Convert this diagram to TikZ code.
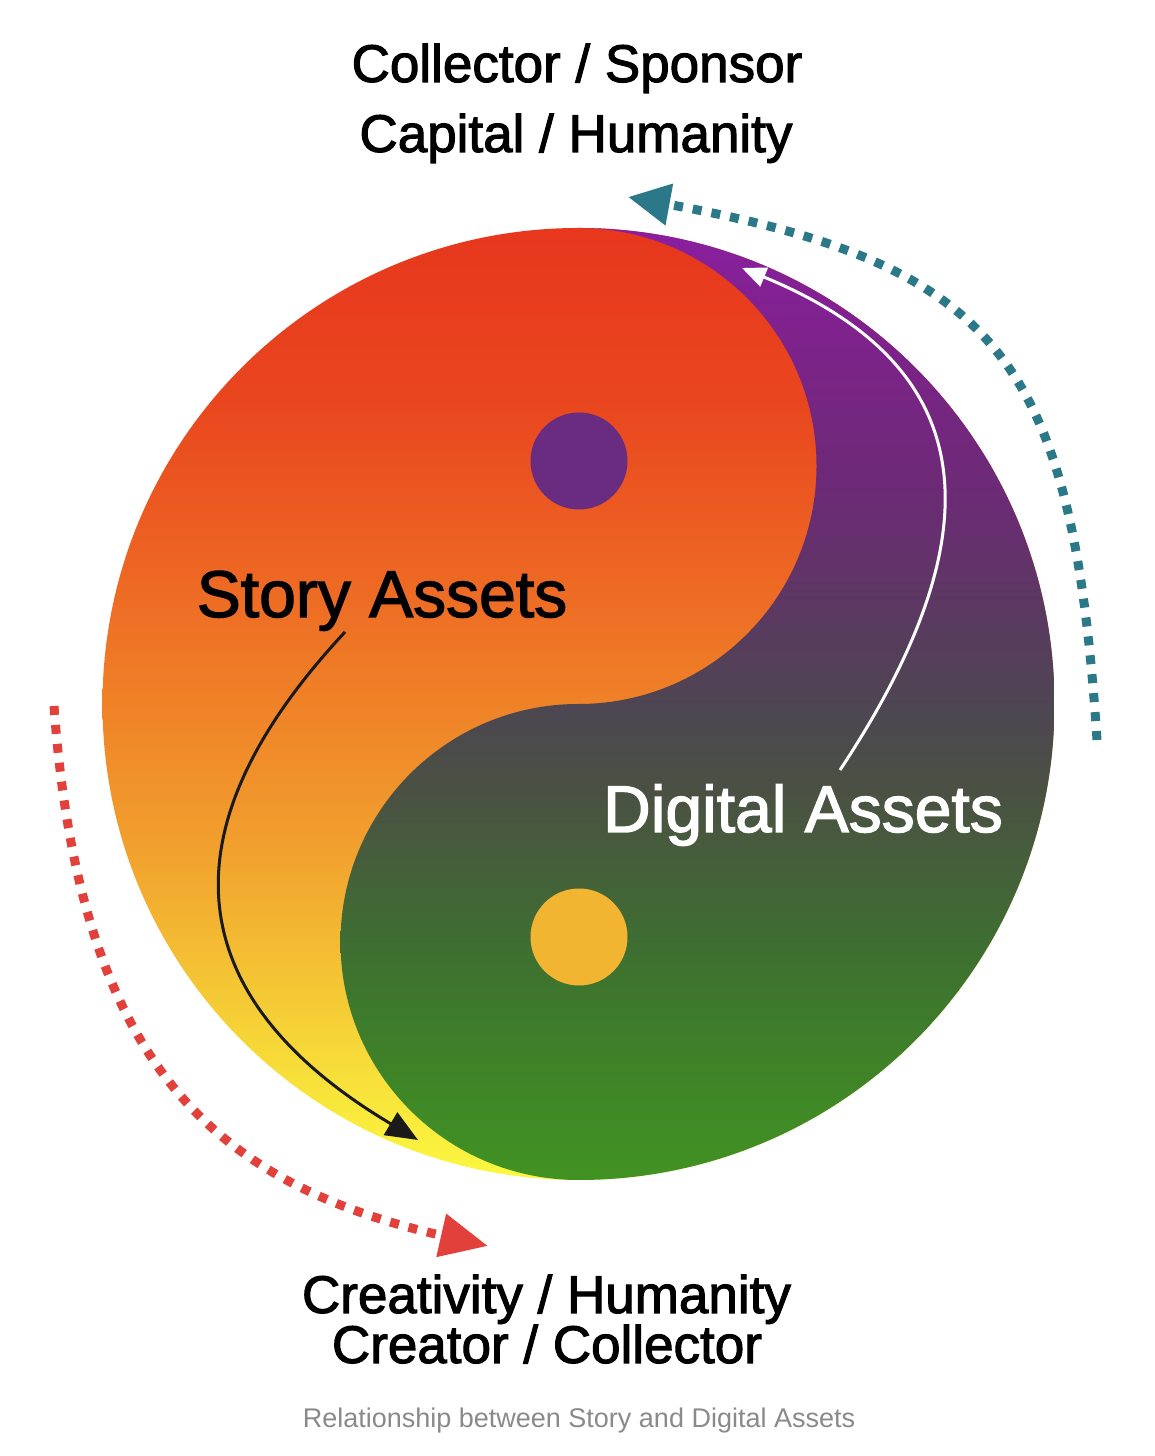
\documentclass[tikz,border=0pt]{standalone}
\usepackage{fontspec}
\setmainfont{Liberation Sans}
\newfontfamily\heavysans[FakeBold=2]{Liberation Sans}
\usetikzlibrary{arrows.meta}

\definecolor{La}{HTML}{E7371D}
\definecolor{Lb}{HTML}{E9461F}
\definecolor{Lc}{HTML}{EC5E22}
\definecolor{Ld}{HTML}{EF8127}
\definecolor{Le}{HTML}{F1A12E}
\definecolor{Lf}{HTML}{F5CA35}
\definecolor{Lg}{HTML}{F8E63B}
\definecolor{Lh}{HTML}{FBF840}

\definecolor{Ra}{HTML}{8A1F9E}
\definecolor{Rb}{HTML}{7C2389}
\definecolor{Rc}{HTML}{6B2B74}
\definecolor{Rd}{HTML}{5A3A60}
\definecolor{Re}{HTML}{4C484F}
\definecolor{Rf}{HTML}{4A5242}
\definecolor{Rg}{HTML}{45603A}
\definecolor{Rh}{HTML}{3E6F30}
\definecolor{Ri}{HTML}{3F8826}
\definecolor{Rj}{HTML}{419223}

\definecolor{dotpurple}{HTML}{6A2C80}
\definecolor{dotyellow}{HTML}{F2B531}
\definecolor{tealarrow}{HTML}{2B7889}
\definecolor{redarrow}{HTML}{E2413B}
\definecolor{arrowblack}{HTML}{1A1A1A}
\definecolor{captiongray}{HTML}{8A8A8A}

\pgfdeclareverticalshading{yangshade}{100bp}{%
  color(0bp)=(Lh); color(25bp)=(Lh); color(29.2bp)=(Lg); color(34.45bp)=(Lf);
  color(42.33bp)=(Le); color(50.21bp)=(Ld); color(59.14bp)=(Lc);
  color(65.97bp)=(Lb); color(75bp)=(La); color(100bp)=(La)}

\pgfdeclareverticalshading{yinshade}{100bp}{%
  color(0bp)=(Rj); color(25bp)=(Rj); color(29.2bp)=(Ri); color(37.08bp)=(Rh);
  color(41.28bp)=(Rg); color(44.96bp)=(Rf); color(49.16bp)=(Re);
  color(54.41bp)=(Rd); color(60.71bp)=(Rc); color(68.59bp)=(Rb);
  color(75bp)=(Ra); color(100bp)=(Ra)}

\tikzset{
  bigtext/.style={font=\heavysans\fontsize{53}{60}\selectfont, anchor=base, inner sep=0pt},
  labeltext/.style={font=\heavysans\fontsize{66}{72}\selectfont, anchor=base, inner sep=0pt},
  captiontext/.style={font=\fontsize{27}{30}\selectfont, anchor=base, inner sep=0pt, text=captiongray},
  eyedot/.style={circle, inner sep=0pt, minimum size=97pt},
  dottedarrow/.style={line width=9pt, dash pattern=on 9pt off 10pt},
  thinarrow/.style={line width=3pt}
}

\begin{document}
\begin{tikzpicture}[x=1pt,y=1pt]
\useasboundingbox (0,0) rectangle (1154,1456);
\fill[white] (0,0) rectangle (1154,1456);

% yin-yang body
\coordinate (C) at (578.5,752);
\begin{scope}
  \clip (C) circle[radius=476];
  \shade[shading=yangshade] (102.5,276) rectangle (1054.5,1228);
\end{scope}
\begin{scope}
  \clip (578.5,1228) arc[start angle=90,end angle=-90,radius=238]
        arc[start angle=90,end angle=270,radius=238]
        arc[start angle=-90,end angle=90,radius=476] -- cycle;
  \shade[shading=yinshade] (102.5,276) rectangle (1054.5,1228);
\end{scope}

% eyes
\node[eyedot, fill=dotpurple] (dotup) at (579,995) {};
\node[eyedot, fill=dotyellow] (dotlow) at (579,519) {};

% texts
\node[bigtext] (top1) at (577,1374) {Collector / Sponsor};
\node[bigtext] (top2) at (576,1304) {Capital / Humanity};
\node[labeltext] (story) at (382,839) {Story Assets};
\node[labeltext, text=white] (digital) at (803,624) {Digital Assets};
\node[bigtext] (bot1) at (546.5,143) {Creativity / Humanity};
\node[bigtext] (bot2) at (547,93) {Creator / Collector};
\node[captiontext] (caption) at (579,28) {Relationship between Story and Digital Assets};

% arrow end points
\coordinate (bs) at (345,824);
\coordinate (bt) at (418,316);
\coordinate (ws) at (840,686);
\coordinate (wt) at (742,1188);
\coordinate (ts) at (1097,716);
\coordinate (tt) at (628,1259);
\coordinate (rs) at (54,750);
\coordinate (rt) at (488,210);

% black arrow (Story Assets)
\draw[thinarrow, arrowblack, -{Triangle[length=32pt,width=26pt]}]
  (bs) .. controls (141,605) and (203,444) .. (bt);
% white arrow (Digital Assets)
\draw[thinarrow, white, -{Triangle[length=24pt,width=20pt]}]
  (ws) .. controls (1016,951.6) and (958,1099) .. (wt);
% teal dotted arrow
\draw[dottedarrow, tealarrow, -{Triangle[length=42pt,width=40pt]}]
  (ts) .. controls (1072,1096) and (1000,1191) .. (tt);
% red dotted arrow
\draw[dottedarrow, redarrow, -{Triangle[length=48pt,width=42pt]}]
  (rs) .. controls (80,390) and (215,272) .. (rt);
\end{tikzpicture}
\end{document}
